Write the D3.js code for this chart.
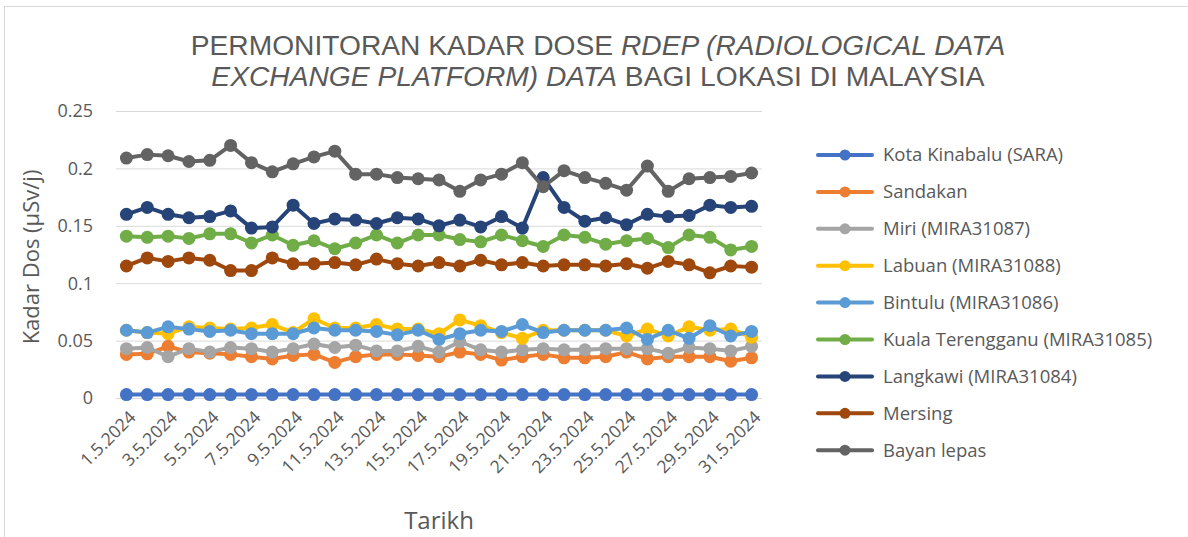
<!DOCTYPE html>
<html>
<head>
<meta charset="utf-8">
<script src="https://cdn.jsdelivr.net/npm/d3@7"></script>
<style>
  body { margin: 0; background: #fff; }
  text { font-family: "Open Sans", "Liberation Sans", sans-serif; fill: #595959; }
</style>
</head>
<body>
<script>
// data
var dates = [];
for (var d = 1; d <= 31; d++) dates.push(d + ".5.2024");

var seriesNames = ["Kota Kinabalu (SARA)", "Sandakan", "Miri (MIRA31087)", "Labuan (MIRA31088)",
  "Bintulu (MIRA31086)", "Kuala Terengganu (MIRA31085)", "Langkawi (MIRA31084)", "Mersing", "Bayan lepas"];
var seriesColors = ["#4472C4", "#ED7D31", "#A5A5A5", "#FFC000", "#5B9BD5", "#70AD47", "#264478", "#9E480E", "#636363"];

var kotaKinabalu = [0.003,0.003,0.003,0.003,0.003,0.003,0.003,0.003,0.003,0.003,0.003,0.003,0.003,0.003,0.003,0.003,
  0.003,0.003,0.003,0.003,0.003,0.003,0.003,0.003,0.003,0.003,0.003,0.003,0.003,0.003,0.003];
var sandakan = [0.038,0.0385,0.045,0.040,0.039,0.038,0.036,0.034,0.037,0.038,0.031,0.036,0.038,0.038,0.037,0.036,
  0.040,0.038,0.033,0.036,0.038,0.035,0.035,0.036,0.040,0.034,0.036,0.036,0.036,0.032,0.035];
var miri = [0.043,0.044,0.036,0.043,0.040,0.044,0.043,0.040,0.043,0.047,0.044,0.046,0.041,0.041,0.045,0.040,
  0.049,0.042,0.040,0.042,0.043,0.042,0.042,0.043,0.043,0.043,0.039,0.044,0.043,0.041,0.045];
var labuan = [0.059,0.057,0.056,0.062,0.061,0.060,0.061,0.064,0.057,0.069,0.061,0.061,0.064,0.060,0.060,0.056,
  0.068,0.063,0.057,0.052,0.059,0.059,0.059,0.059,0.054,0.060,0.054,0.062,0.059,0.060,0.053];
var bintulu = [0.059,0.057,0.062,0.060,0.058,0.059,0.056,0.056,0.056,0.061,0.059,0.059,0.058,0.055,0.059,0.051,
  0.056,0.059,0.058,0.064,0.057,0.059,0.059,0.059,0.061,0.051,0.059,0.052,0.063,0.054,0.058];
var kualaTerengganu = [0.141,0.140,0.141,0.139,0.143,0.143,0.135,0.142,0.133,0.137,0.130,0.135,0.142,0.135,0.142,0.142,
  0.138,0.136,0.142,0.137,0.132,0.142,0.140,0.134,0.137,0.139,0.131,0.142,0.140,0.129,0.132];
var langkawi = [0.160,0.166,0.160,0.157,0.158,0.163,0.148,0.149,0.168,0.152,0.156,0.155,0.152,0.157,0.156,0.150,
  0.155,0.149,0.158,0.148,0.192,0.166,0.154,0.157,0.151,0.160,0.158,0.159,0.168,0.166,0.167];
var mersing = [0.115,0.122,0.119,0.122,0.120,0.111,0.111,0.122,0.117,0.117,0.118,0.116,0.121,0.117,0.115,0.118,
  0.115,0.120,0.116,0.118,0.115,0.116,0.116,0.115,0.117,0.113,0.119,0.116,0.109,0.115,0.114];
var bayanLepas = [0.209,0.212,0.211,0.206,0.207,0.220,0.205,0.197,0.204,0.210,0.215,0.195,0.195,0.192,0.191,0.190,
  0.180,0.190,0.195,0.205,0.184,0.198,0.192,0.187,0.181,0.202,0.180,0.191,0.192,0.193,0.196];

var yTicks = [0, 0.05, 0.1, 0.15, 0.2, 0.25];
var yTickLabels = ["0", "0.05", "0.1", "0.15", "0.2", "0.25"];

var allValues = [kotaKinabalu, sandakan, miri, labuan, bintulu, kualaTerengganu, langkawi, mersing, bayanLepas];

var width = 1188, height = 537;
var svg = d3.select("body").append("svg")
  .attr("width", width)
  .attr("height", height);

// chart border
svg.append("rect")
  .attr("x", 4.5).attr("y", 6.5)
  .attr("width", width + 10).attr("height", height + 10)
  .attr("fill", "none")
  .attr("stroke", "#d9d9d9");

var plotLeft = 116, plotRight = 762, plotTop = 111, plotBottom = 398;

var x = d3.scalePoint()
  .domain(dates)
  .range([plotLeft, plotRight])
  .padding(0.5);

var y = d3.scaleLinear()
  .domain([0, 0.25])
  .range([plotBottom, plotTop]);

// gridlines
svg.append("g")
  .attr("transform", "translate(" + plotLeft + ",0)")
  .call(d3.axisLeft(y).tickValues(yTicks).tickSize(-(plotRight - plotLeft)).tickFormat(""))
  .call(function(g) {
    g.select(".domain").remove();
    g.selectAll("line").attr("stroke", "#d9d9d9").attr("stroke-width", 1);
  });

// y labels
svg.selectAll(".ylab")
  .data(yTicks)
  .enter()
  .append("text")
  .attr("class", "ylab")
  .attr("x", 93)
  .attr("y", function(d) { return y(d); })
  .attr("dy", "0.35em")
  .attr("text-anchor", "end")
  .attr("font-size", 18)
  .text(function(d, i) { return yTickLabels[i]; });

// x labels, every second date
svg.selectAll(".xlab")
  .data(dates.filter(function(d, i) { return i % 2 == 0; }))
  .enter()
  .append("text")
  .attr("class", "xlab")
  .attr("transform", function(d) { return "translate(" + (x(d) + 6) + ",414) rotate(-45)"; })
  .attr("text-anchor", "end")
  .attr("dy", "0.35em")
  .attr("font-size", 17.5)
  .text(function(d) { return d; });

// lines and markers
var line = d3.line()
  .x(function(d, i) { return x(dates[i]); })
  .y(function(d) { return y(d); });

allValues.forEach(function(vals, s) {
  var g = svg.append("g");
  g.append("path")
    .datum(vals)
    .attr("d", line)
    .attr("fill", "none")
    .attr("stroke", seriesColors[s])
    .attr("stroke-width", 4)
    .attr("stroke-linejoin", "round")
    .attr("stroke-linecap", "round");
  g.selectAll("circle")
    .data(vals)
    .enter()
    .append("circle")
    .attr("cx", function(d, i) { return x(dates[i]); })
    .attr("cy", function(d) { return y(d); })
    .attr("r", 6.5)
    .attr("fill", seriesColors[s]);
});

// title, narrow like the reference: squeeze horizontally to fit
var titleLines = [
  [["PERMONITORAN KADAR DOSE ", "normal"], ["RDEP (RADIOLOGICAL DATA", "italic"]],
  [["EXCHANGE PLATFORM) DATA", "italic"], [" BAGI LOKASI DI MALAYSIA", "normal"]]
];
var titleY = [55, 86];
var titleTexts = titleLines.map(function(parts, li) {
  var t = svg.append("text")
    .attr("text-anchor", "middle")
    .attr("font-size", 27)
    .style("font-family", "'Liberation Sans', Arial, sans-serif");
  parts.forEach(function(p) {
    t.append("tspan").attr("font-style", p[1]).text(p[0]);
  });
  return t;
});
var k = 815 / titleTexts[0].node().getComputedTextLength();
titleTexts.forEach(function(t, li) {
  t.attr("transform", "translate(598," + titleY[li] + ") scale(" + k + ",1)");
});

// axis titles
svg.append("text")
  .attr("transform", "translate(31,257) rotate(-90)")
  .attr("text-anchor", "middle")
  .attr("dy", "0.35em")
  .attr("font-size", 22)
  .text("Kadar Dos (µSv/j)");

svg.append("text")
  .attr("x", 439)
  .attr("y", 521)
  .attr("text-anchor", "middle")
  .attr("dy", "0.35em")
  .attr("font-size", 24)
  .text("Tarikh");

// legend
var legend = svg.selectAll(".leg")
  .data(seriesNames)
  .enter()
  .append("g")
  .attr("class", "leg")
  .attr("transform", function(d, i) { return "translate(818," + (155 + i * 36.9) + ")"; });

legend.append("line")
  .attr("x1", 0).attr("x2", 54)
  .attr("stroke", function(d, i) { return seriesColors[i]; })
  .attr("stroke-width", 4)
  .attr("stroke-linecap", "round");

legend.append("circle")
  .attr("cx", 27)
  .attr("r", 5.5)
  .attr("fill", function(d, i) { return seriesColors[i]; });

legend.append("text")
  .attr("x", 65)
  .attr("dy", "0.35em")
  .attr("font-size", 18.5)
  .text(function(d) { return d; });
</script>
</body>
</html>
